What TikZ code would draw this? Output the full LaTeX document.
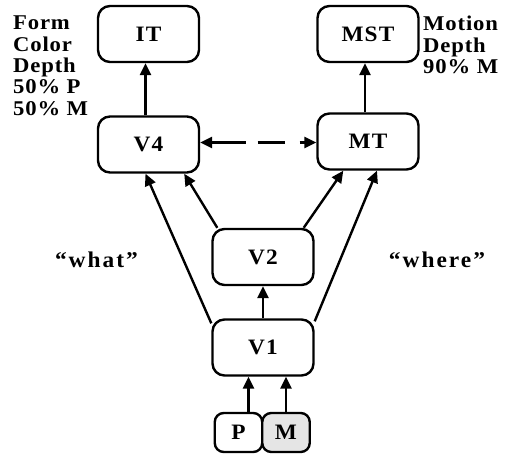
\documentclass[tikz,border=0pt]{standalone}
\usepackage{fontspec}
\setmainfont{Liberation Serif}
\usetikzlibrary{arrows.meta}
\begin{document}
\begin{tikzpicture}[x=1pt,y=-1pt,line width=2.4pt,>={Triangle[length=12pt,width=11pt]}]
\tikzstyle{every node}=[font=\fontsize{22}{21}\selectfont\bfseries\addfontfeatures{FakeStretch=1.06,LetterSpace=5}]
\tikzstyle{area} = [draw, rounded corners=12pt, minimum width=101pt, minimum height=56pt, inner sep=0pt];
\tikzstyle{input} = [draw, rounded corners=9pt, minimum width=47.5pt, minimum height=39pt, inner sep=0pt];
\tikzstyle{note} = [align=left, inner sep=0pt, anchor=north west, font=\fontsize{21}{21.3}\selectfont\bfseries\addfontfeatures{FakeStretch=1.08,LetterSpace=4}];
\tikzstyle{stream} = [inner sep=0pt, anchor=base, font=\fontsize{22.5}{21}\selectfont\bfseries\addfontfeatures{FakeStretch=1.04,LetterSpace=9}];
\useasboundingbox (0,0) rectangle (525,463);
% areas
\node[area] (IT) at (148.5,34) {IT};
\node[area] (MST) at (368,34) {MST};
\node[area] (V4) at (148.5,144.5) {V4};
\node[area] (MT) at (368,141.5) {MT};
\node[area] (V2) at (263,257) {V2};
\node[area] (V1) at (263,347.5) {V1};
\node[input] (P) at (238.5,432.5) {P};
\node[input, fill=gray!20] (M) at (286,432.5) {M};
% labels
\node[note] (what-list) at (12,15) {Form\\Color\\Depth\\50\% P\\50\% M};
\node[note] (where-list) at (422,15) {Motion\\Depth\\90\% M};
\node[stream] (what) at (96.5,267) {“what”};
\node[stream] (where) at (437,267) {“where”};
% connections
\draw[->] ([xshift=10pt]P.north) -- ([xshift=10pt]P.north |- V1.south);
\draw[->] (M.north) -- (M.north |- V1.south);
\draw[->] (V1.north) -- (V2.south);
\draw[->] ([yshift=-5pt]V1.north west) -- ([xshift=-3pt]V4.south);
\draw[->] ([yshift=-3pt]V1.north east) -- ([xshift=9pt]MT.south);
\draw[->] ([xshift=6pt]V2.north west) -- ([xshift=-16pt]V4.south east);
\draw[->] ([xshift=-11pt]V2.north east) -- ([xshift=27pt]MT.south west);
\draw[->] ([xshift=-3pt]V4.north) -- ([xshift=-3pt]IT.south);
\draw[->] ([xshift=-3pt]MT.north) -- ([xshift=-3pt]MST.south);
\draw[<->, dash pattern=on 34pt off 12pt on 27pt off 15pt on 20pt] ([yshift=2pt]V4.east) -- ([yshift=2pt]V4.east -| MT.west);
\end{tikzpicture}
\end{document}
